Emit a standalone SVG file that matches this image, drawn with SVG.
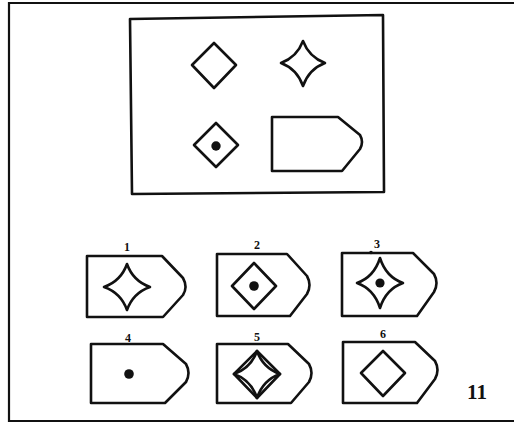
<svg xmlns="http://www.w3.org/2000/svg" width="514" height="428" viewBox="0 0 514 428">
<style>
.s{fill:none;stroke:#111;stroke-width:2.6;stroke-linejoin:round}
.f{fill:none;stroke:#111;stroke-width:2.2}
.d{fill:#111}
.n{font-family:"Liberation Serif",serif;font-weight:bold;font-size:12px;fill:#111;text-anchor:middle}
.big{font-family:"Liberation Serif",serif;font-weight:bold;font-size:21px;fill:#111;text-anchor:middle}
</style>
<rect width="514" height="428" fill="#fff"/>
<path class="f" d="M 520 3 H 9 V 421 H 520"/>
<g id="problem">
<path class="s" d="M 130 19 L 383 15 L 384 192 L 132 194 Z"/>
<g id="p-diamond"><path class="s" d="M 214 43 L 236 65 L 214 88 L 192 65 Z"/></g>
<g id="p-star"><path class="s" d="M 303 41 Q 309 57 325 63 Q 309 69 303 86 Q 297 69 281 63 Q 297 57 303 41 Z"/></g>
<g id="p-diamond-dot"><path class="s" d="M 216 123 L 238 145 L 216 167 L 194 145 Z"/><circle class="d" cx="216" cy="146" r="4.7"/></g>
<g id="p-house"><path class="s" d="M 272 117 H 338 L 360 135 Q 364 142 360 149 L 342 171 H 272 Z"/></g>
</g>
<g id="opt1">
<text class="n" x="127" y="251">1</text>
<path class="s" d="M 87 256 H 162 L 183 278 Q 188 287 183 295 L 163 317 H 87 Z"/>
<path class="s" d="M 127 264 Q 133 281 150 287 Q 133 293 127 310 Q 121 293 104 287 Q 121 281 127 264 Z"/>
</g>
<g id="opt2">
<text class="n" x="257" y="249">2</text>
<path class="s" d="M 217 254 H 287 L 307 276 Q 312 285 307 294 L 290 316 H 217 Z"/>
<path class="s" d="M 254 263 L 276 286 L 254 309 L 232 286 Z"/>
<circle class="d" cx="254" cy="286" r="4.8"/>
</g>
<g id="opt3">
<text class="n" x="377" y="248">3</text>
<circle class="d" cx="371" cy="252.5" r="1.8"/>
<path class="s" d="M 342 253 H 413 L 434 274 Q 439 283 434 292 L 417 316 H 342 Z"/>
<path class="s" d="M 380 258 Q 386 277 403 283 Q 386 289 380 308 Q 374 289 357 283 Q 374 277 380 258 Z"/>
<circle class="d" cx="380" cy="283" r="4.6"/>
</g>
<g id="opt4">
<text class="n" x="128" y="342">4</text>
<path class="s" d="M 91 344 H 163 L 186 364 Q 191 373 186 382 L 165 403 H 91 Z"/>
<circle class="d" cx="129" cy="374" r="4.8"/>
</g>
<g id="opt5">
<text class="n" x="257" y="341">5</text>
<path class="s" d="M 217 344 H 288 L 309 364 Q 314 373 309 382 L 291 403 H 217 Z"/>
<path class="s" d="M 257 351 L 280 374 L 257 398 L 234 374 Z"/>
<path class="s" d="M 257 351 Q 263 368 280 374 Q 263 380 257 398 Q 251 380 234 374 Q 251 368 257 351 Z"/>
</g>
<g id="opt6">
<text class="n" x="383" y="338">6</text>
<path class="s" d="M 343 342 H 415 L 435 361 Q 440 370 435 379 L 417 403 H 343 Z"/>
<path class="s" d="M 383 351 L 405 373 L 383 396 L 361 373 Z"/>
</g>
<text class="big" x="477" y="399">11</text>
</svg>
